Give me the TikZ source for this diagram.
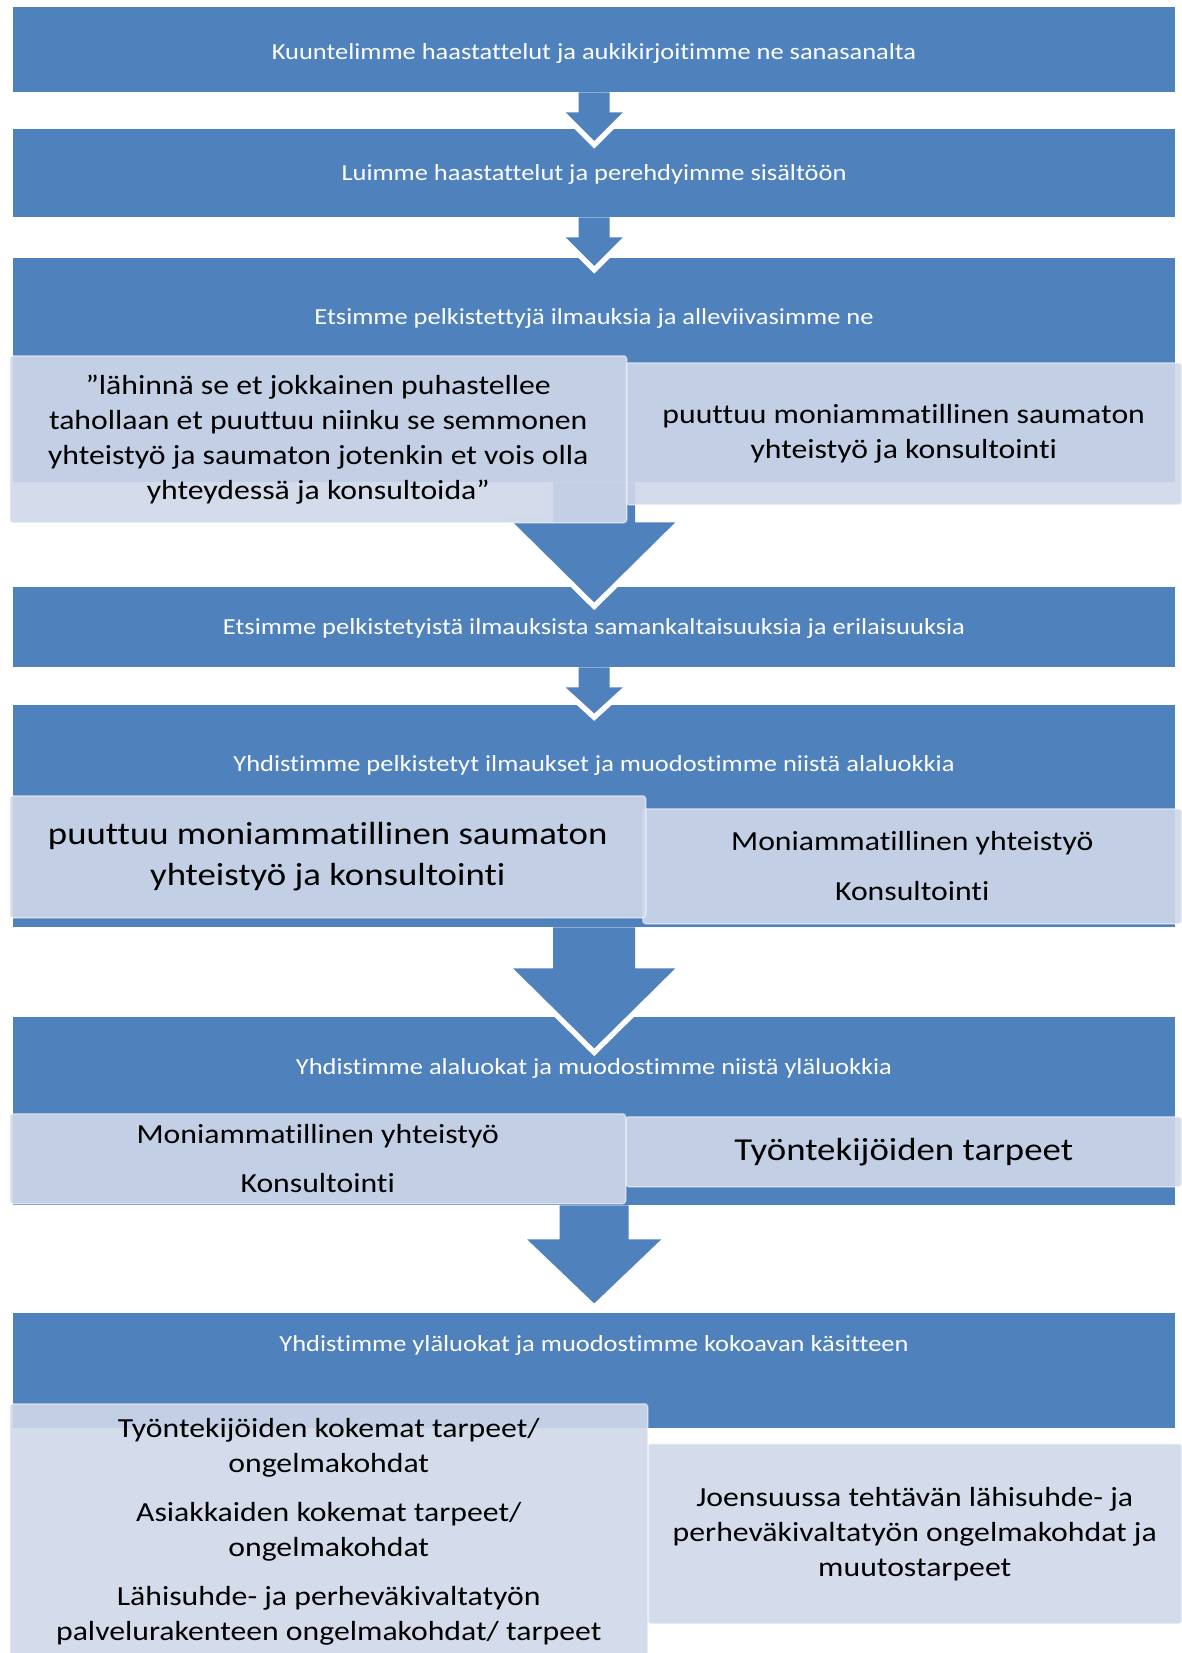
\documentclass[tikz,border=0pt]{standalone}
\usepackage{fontspec}
\setmainfont[FakeStretch=1.15, Ligatures=NoCommon]{Carlito}
\usetikzlibrary{calc}
\definecolor{mainblue}{HTML}{4F81BD}
\definecolor{subfill}{HTML}{CFD8E9}
\tikzset{
  stepbox/.style={rectangle, fill=mainblue, inner sep=0pt, anchor=north west},
  headtext/.style={text=white, font=\fontsize{23}{28}\selectfont, inner sep=0pt},
  subbox/.style={rectangle, rounded corners=3pt, fill=subfill, fill opacity=0.9, text opacity=1,
    draw=white, draw opacity=0.45, line width=1.5pt, inner sep=0pt, anchor=north west,
    align=center, text=black, font=\fontsize{27.6}{35}\selectfont},
  bigsub/.style={font=\fontsize{32}{41}\selectfont},
  arrowfill/.style={fill=mainblue},
  arrowedge/.style={draw=white, line width=11pt, line join=miter},
}
% #1 start anchor, #2 shaft half width, #3 head half width, #4 shaft length, #5 head length
\newcommand{\flowarrow}[5]{%
  \draw[arrowedge] (#1) ++(-#2,0) -- ++(0,#4) -- ++({#2-#3},0) -- ++(#3,#5) -- ++(#3,-#5) -- ++({#2-#3},0) -- ++(0,-#4);
  \fill[arrowfill] (#1) ++(-#2,0) -- ++(0,#4) -- ++({#2-#3},0) -- ++(#3,#5) -- ++(#3,-#5) -- ++({#2-#3},0) -- ++(0,-#4) -- cycle;
}
\begin{document}
\begin{tikzpicture}[x=1pt, y=-1pt]
\path[use as bounding box, clip] (0,0) rectangle (1182,1653);

% main step boxes
\node[stepbox, minimum width=1162pt, minimum height=85pt]  (b1) at (13,7) {};
\node[stepbox, minimum width=1162pt, minimum height=88pt]  (b2) at (13,129) {};
\node[stepbox, minimum width=1162pt, minimum height=224pt] (b3) at (13,258) {};
\node[stepbox, minimum width=1162pt, minimum height=80pt]  (b4) at (13,587) {};
\node[stepbox, minimum width=1162pt, minimum height=222pt] (b5) at (13,705) {};
\node[stepbox, minimum width=1162pt, minimum height=188pt] (b6) at (13,1017) {};
\node[stepbox, minimum width=1162pt, minimum height=115pt] (b7) at (13,1313) {};

% block arrows between steps
\flowarrow{b1.south}{15.5}{28.5}{20}{28.5}
\flowarrow{b2.south}{15.5}{28.5}{20}{28.5}
\flowarrow{b3.south}{41}{81}{40}{80}
\flowarrow{b4.south}{15.5}{28.5}{20}{26}
\flowarrow{b5.south}{41}{81}{41}{80}
\flowarrow{b6.south}{34.5}{67}{34}{64}

% step titles
\node[headtext] (h1) at (594,53) {Kuuntelimme haastattelut ja aukikirjoitimme ne sanasanalta};
\node[headtext] (h2) at (594,174) {Luimme haastattelut ja perehdyimme sisältöön};
\node[headtext] (h3) at (594,318) {Etsimme pelkistettyjä ilmauksia ja alleviivasimme ne};
\node[headtext] (h4) at (594,628) {Etsimme pelkistetyistä ilmauksista samankaltaisuuksia ja erilaisuuksia};
\node[headtext] (h5) at (594,765) {Yhdistimme pelkistetyt ilmaukset ja muodostimme niistä alaluokkia};
\node[headtext] (h6) at (594,1068) {Yhdistimme alaluokat ja muodostimme niistä yläluokkia};
\node[headtext] (h7) at (594,1345) {Yhdistimme yläluokat ja muodostimme kokoavan käsitteen};

% sub boxes
\node[subbox, minimum width=556pt, minimum height=142pt] (s3r) at (625,362)
  {puuttuu moniammatillinen saumaton\\ yhteistyö ja konsultointi};
\node[subbox, minimum width=617pt, minimum height=167pt] (s3l) at (9,355)
  {”lähinnä se et jokkainen puhastellee\\ tahollaan et puuttuu niinku se semmonen\\ yhteistyö ja saumaton jotenkin et vois olla\\ yhteydessä ja konsultoida”};

\node[subbox, minimum width=539pt, minimum height=115pt] (s5r) at (642,808)
  {Moniammatillinen yhteistyö\\[15pt] Konsultointi};
\node[subbox, bigsub, minimum width=636pt, minimum height=122pt] (s5l) at (9,795)
  {puuttuu moniammatillinen saumaton\\ yhteistyö ja konsultointi};

\node[subbox, bigsub, minimum width=556pt, minimum height=70pt] (s6r) at (625,1116)
  {Työntekijöiden tarpeet};
\node[subbox, minimum width=616pt, minimum height=90pt] (s6l) at (9,1113)
  {Moniammatillinen yhteistyö\\[14pt] Konsultointi};

\node[subbox, minimum width=534pt, minimum height=180pt] (s7r) at (647,1443)
  {Joensuussa tehtävän lähisuhde- ja\\ perheväkivaltatyön ongelmakohdat ja\\ muutostarpeet};
\node[subbox, minimum width=638pt, minimum height=256pt] (s7l) at (9,1403)
  {Työntekijöiden kokemat tarpeet/\\ ongelmakohdat\\[14pt] Asiakkaiden kokemat tarpeet/\\ ongelmakohdat\\[14pt] Lähisuhde- ja perheväkivaltatyön\\ palvelurakenteen ongelmakohdat/ tarpeet};
\end{tikzpicture}
\end{document}
